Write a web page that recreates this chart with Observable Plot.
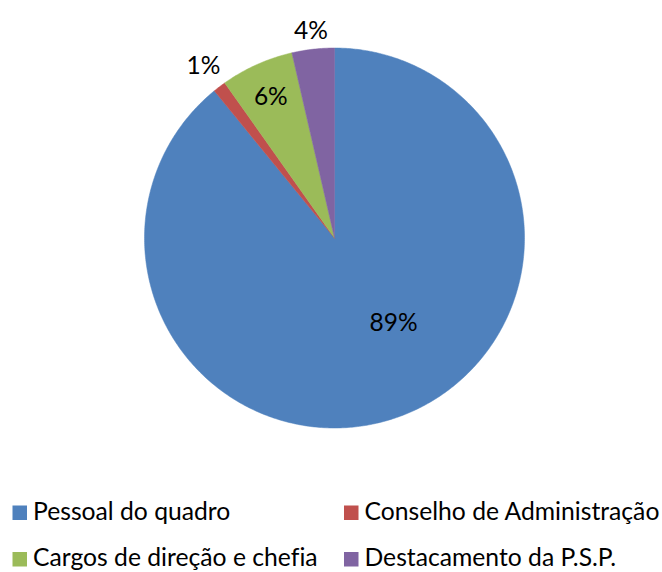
<!DOCTYPE html>
<html>
<head>
<meta charset="utf-8">
<script src="https://cdn.jsdelivr.net/npm/d3@7"></script>
<script src="https://cdn.jsdelivr.net/npm/@observablehq/plot@0.6"></script>
<style>
  html, body { margin: 0; padding: 0; background: #fff; }
  #chart { width: 662px; height: 572px; position: relative; font-family: Lato, "Open Sans", sans-serif; font-variant-ligatures: none; }
  #chart svg { display: block; }
  #chart text { font-variant-ligatures: none; font-feature-settings: "liga" 0; }
</style>
</head>
<body>
<div id="chart"></div>
<script>
// ---- data ----
const categories = ["Pessoal do quadro", "Conselho de Administração", "Cargos de direção e chefia", "Destacamento da P.S.P."];
const values = [89.1, 1.1, 6.2, 3.6];
const colors = ["#4F81BD", "#C0504D", "#9BBB59", "#8064A2"];

// label placement (radius as fraction of pie radius, angle shift in degrees)
const labelRadius = [0.54, 1.14, 0.82, 1.10];
const labelShift = [-15.5, 0, 0, 0];

const total = d3.sum(values);
const pie = d3.pie().sort(null).value(d => d)(values);

// slice polygons on a unit circle, angle clockwise from 12 o'clock
const polys = [];
pie.forEach((s, i) => {
  const n = Math.max(4, Math.ceil((s.endAngle - s.startAngle) / 0.01));
  polys.push({cat: categories[i], x: 0, y: 0});
  for (let k = 0; k <= n; k++) {
    const a = s.startAngle + (s.endAngle - s.startAngle) * k / n;
    polys.push({cat: categories[i], x: Math.sin(a), y: Math.cos(a)});
  }
  polys.push({cat: categories[i], x: 0, y: 0});
});

const labels = pie.map((s, i) => {
  const a = (s.startAngle + s.endAngle) / 2 + labelShift[i] * Math.PI / 180;
  return {
    text: Math.round(values[i] / total * 100) + "%",
    x: labelRadius[i] * Math.sin(a),
    y: labelRadius[i] * Math.cos(a)
  };
});

const W = 662, H = 460;
const plot = Plot.plot({
  width: W,
  height: H,
  marginLeft: 144,
  marginRight: 138,
  marginTop: 47.5,
  marginBottom: 32.5,
  x: {domain: [-1, 1], axis: null},
  y: {domain: [-1, 1], axis: null},
  color: {domain: categories, range: colors},
  style: {fontFamily: "Lato, 'Open Sans', sans-serif", background: "white"},
  marks: [
    Plot.line(polys, {x: "x", y: "y", z: "cat", fill: "cat", stroke: "cat", strokeWidth: 0.5}),
    Plot.text(labels, {x: "x", y: "y", text: "text", fontSize: 24.5, fill: "black", textAnchor: "middle", dy: 1})
  ]
});
document.getElementById("chart").appendChild(plot);

// legend below the plot
const legendRows = [[0, 1], [2, 3]];
const colX = [12.5, 344];
const rowBase = [519.5 - H, 566 - H];
const leg = d3.select("#chart").append("svg")
  .attr("width", W).attr("height", 572 - H)
  .style("font-family", "Lato, 'Open Sans', sans-serif");
legendRows.forEach((row, r) => {
  row.forEach((idx, c) => {
    const g = leg.append("g").attr("transform", `translate(${colX[c]},${rowBase[r]})`);
    g.append("rect").attr("x", 0).attr("y", -14).attr("width", 14.5).attr("height", 14.5).attr("fill", colors[idx]);
    g.append("text").attr("x", 20.5).attr("y", 0).attr("font-size", 24.7).attr("fill", "#000").text(categories[idx]);
  });
});
</script>
</body>
</html>
